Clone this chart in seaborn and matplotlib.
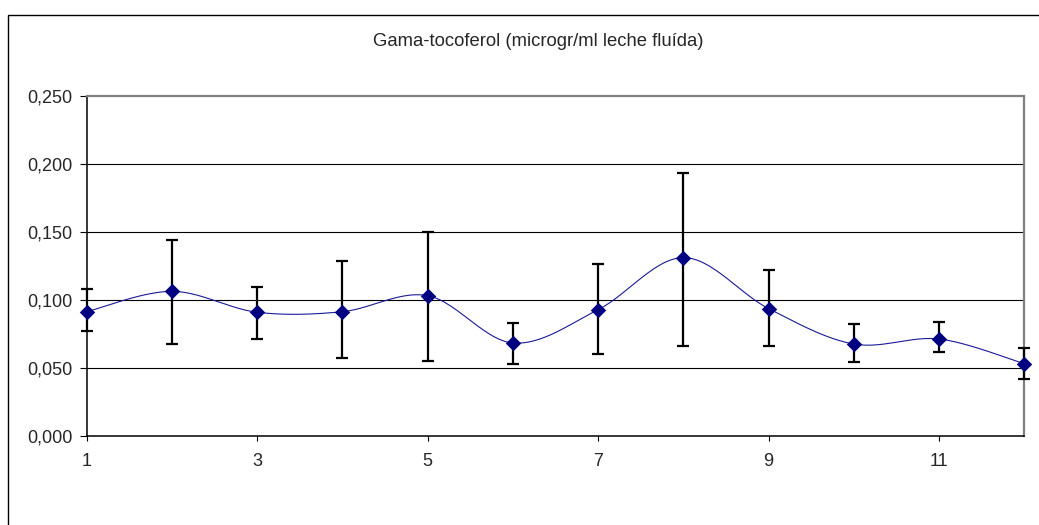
import numpy as np
import pandas as pd
import matplotlib
matplotlib.use("Agg")
import matplotlib.pyplot as plt
from matplotlib.patches import Rectangle
from matplotlib.ticker import FuncFormatter, FixedLocator
import seaborn as sns

# ---- data ----
muestra = [1, 2, 3, 4, 5, 6, 7, 8, 9, 10, 11, 12]
gama_toco = [0.0915, 0.1065, 0.0911, 0.0915, 0.1033, 0.0685,
             0.0930, 0.1313, 0.0938, 0.0677, 0.0714, 0.0532]
err_sup = [0.0167, 0.0376, 0.0189, 0.0374, 0.0472, 0.0150,
           0.0339, 0.0624, 0.0287, 0.0145, 0.0123, 0.0114]
err_inf = [0.0139, 0.0385, 0.0199, 0.0343, 0.0478, 0.0157,
           0.0326, 0.0648, 0.0273, 0.0134, 0.0095, 0.0114]
titulo = "Gama-tocoferol (microgr/ml leche fluída)"
y_ticks = [0.0, 0.05, 0.10, 0.15, 0.20, 0.25]
x_ticks = [1, 3, 5, 7, 9, 11]

df = pd.DataFrame({"x": muestra, "y": gama_toco})

# smoothed curve (Excel-like Bezier / Catmull-Rom) built from the data
def smooth(xs, ys, n=30):
    P = np.column_stack([xs, ys]).astype(float)
    P = np.vstack([P[0], P, P[-1]])
    out = []
    for i in range(1, len(P) - 2):
        p0, p1, p2, p3 = P[i - 1], P[i], P[i + 1], P[i + 2]
        c1 = p1 + (p2 - p0) / 6.0
        c2 = p2 - (p3 - p1) / 6.0
        t = np.linspace(0, 1, n)[:, None]
        seg = ((1 - t) ** 3) * p1 + 3 * ((1 - t) ** 2) * t * c1 + 3 * (1 - t) * t ** 2 * c2 + t ** 3 * p2
        out.append(seg if i == 1 else seg[1:])
    return np.vstack(out)

curve = smooth(muestra, gama_toco)
df_curve = pd.DataFrame({"x": curve[:, 0], "y": curve[:, 1]})

sns.set_style("white")
plt.rcParams["font.family"] = ["Liberation Sans", "DejaVu Sans"]

fig = plt.figure(figsize=(10.39, 5.25), dpi=100)
ax = fig.add_axes([86.7 / 1039, 1 - 436 / 525, (1024.3 - 86.7) / 1039, (436 - 96.4) / 525])

# gridlines
for v in y_ticks[1:-1]:
    ax.axhline(v, color="black", lw=0.8, zorder=1)

sns.lineplot(data=df_curve, x="x", y="y", sort=False, ax=ax, color="#1a1a99",
             lw=0.8, zorder=2, estimator=None)
ax.errorbar(muestra, gama_toco, yerr=[err_inf, err_sup], fmt="none",
            ecolor="black", elinewidth=1.6, capsize=4.2, capthick=1.6, zorder=3, clip_on=False)
sns.scatterplot(data=df, x="x", y="y", ax=ax, marker="D", s=62, color="#000080",
                edgecolor="#000080", linewidth=0, zorder=4, clip_on=False)

ax.set_xlim(1, 12)
ax.set_ylim(0, 0.25)
ax.xaxis.set_major_locator(FixedLocator(x_ticks))
ax.yaxis.set_major_locator(FixedLocator(y_ticks))
ax.yaxis.set_major_formatter(FuncFormatter(lambda v, p: f"{v:.3f}".replace(".", ",")))
ax.set_xlabel("")
ax.set_ylabel("")

for s in ["top", "right"]:
    ax.spines[s].set_color("#808080")
    ax.spines[s].set_linewidth(1.6)
for s in ["left", "bottom"]:
    ax.spines[s].set_color("black")
    ax.spines[s].set_linewidth(1.1)

ax.tick_params(axis="y", direction="out", length=5, width=0.8, color="black",
               labelsize=13, pad=5, left=True)
ax.tick_params(axis="x", direction="out", length=3.5, width=0.8, color="black",
               labelsize=13, pad=9, bottom=True)

fig.text(538 / 1039, 1 - 42 / 525, titulo, ha="center", va="center", fontsize=13.3)

# outer chart frame
fig.patches.append(Rectangle((8.3 / 1039, -0.1), 1.2, 1.1 - 14.7 / 525,
                             transform=fig.transFigure, fill=False,
                             edgecolor="black", lw=1.0))

fig.savefig("out.png", dpi=100)
